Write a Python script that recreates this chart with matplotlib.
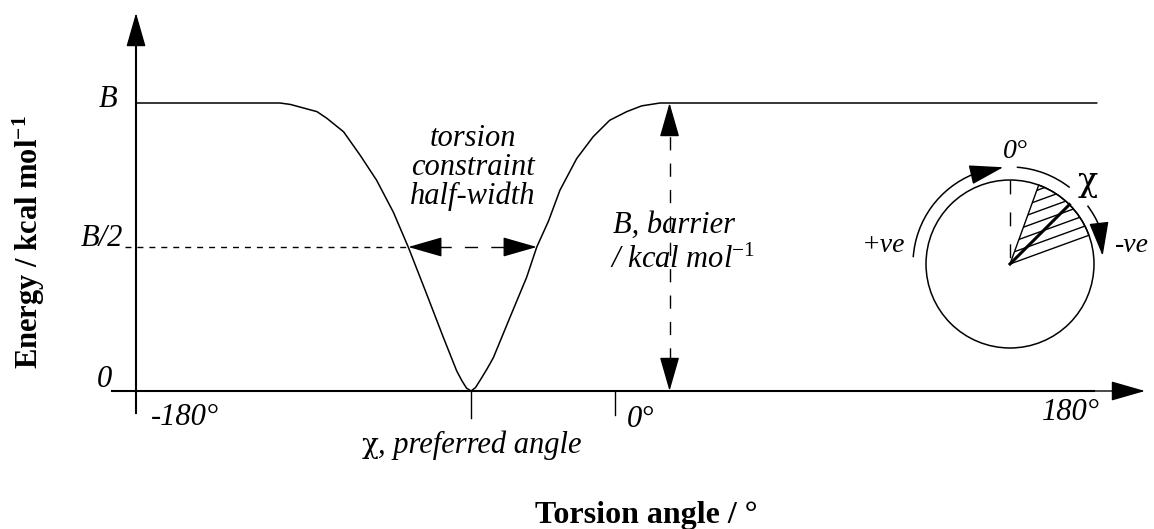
import numpy as np
import matplotlib
matplotlib.use('Agg')
import matplotlib.pyplot as plt
from matplotlib.patches import Circle, Wedge, Arc

plt.rcParams['font.family'] = ['Liberation Serif', 'DejaVu Serif']
plt.rcParams['mathtext.fontset'] = 'custom'
plt.rcParams['mathtext.rm'] = 'Liberation Serif'
plt.rcParams['mathtext.it'] = 'Liberation Serif:italic'
plt.rcParams['mathtext.bf'] = 'Liberation Serif:bold'

# Courbe d'énergie (angle en degrés, énergie en unités de B)
angle = [-180, -125.9, -122, -118, -112, -108.3, -102, -95.8, -89.6, -83.3,
         -77.7, -70.8, -64.5, -59.5, -57.5, -55.8, -54.1, -52.4, -50.5, -48,
         -45.7, -39.5, -33.2, -29.4, -25, -20.7, -14.4, -8.2, -2, 4.4, 10,
         16.9, 181]
energy = [1, 1, 0.995, 0.985, 0.97, 0.947, 0.90, 0.819, 0.732, 0.621,
          0.5, 0.337, 0.186, 0.07, 0.035, 0.01, 0, 0.012, 0.04, 0.078,
          0.116, 0.255, 0.395, 0.5, 0.59, 0.697, 0.807, 0.883, 0.94, 0.97,
          0.99, 1, 1]

chi_pref = -54.1          # angle préféré
half_left, half_right = -77.7, -29.4   # croisements à B/2
barrier_at = 20.5         # position de la flèche de barrière
y_labels = ['B', 'B/2', '0']

# échelle pixels : 0° -> 615 px, 2.661 px/deg ; E=0 -> 391 px, 288 px/unité
PXD, X0PX = 2.661, 615
PXE, Y0PX = 288, 391
W, H = 1154, 529

fig = plt.figure(figsize=(W / 100, H / 100), dpi=100)
ax = fig.add_axes([0, 0, 1, 1])
ax.set_xlim(-X0PX / PXD, (W - X0PX) / PXD)
ax.set_ylim((Y0PX - H) / PXE, Y0PX / PXE)
ax.axis('off')

ov = fig.add_axes([0, 0, 1, 1])
ov.set_xlim(0, W)
ov.set_ylim(H, 0)
ov.axis('off')
ov.patch.set_alpha(0)


def head(a, tip, tail, lw=1.0):
    a.annotate('', xy=tip, xytext=tail,
               arrowprops=dict(arrowstyle='-|>,head_length=21.6,head_width=6.2',
                               mutation_scale=1, lw=lw, color='black',
                               shrinkA=0, shrinkB=0))


# axes
ax.plot([-180, -180], [-22 / PXE, 1.2], color='black', lw=1.5)
head(ax, (-180, 378 / PXE), (-180, 1.0))
ax.plot([-503 / PXD, 180], [0, 0], color='black', lw=1.5)
head(ax, (530 / PXD, 0), (150, 0))

# courbe
ax.plot(angle, energy, color='black', lw=1.1)

# ticks
ax.plot([chi_pref, chi_pref], [0, -27 / PXE], color='black', lw=1.0)
ax.plot([0, 0], [0, -24 / PXE], color='black', lw=1.0)

# ligne B/2 pointillée
ax.plot([-490 / PXD, half_left], [0.5, 0.5], color='black', lw=1.0,
        dashes=(4.3, 4.3))
# flèche demi-largeur
ax.plot([half_left + 30 / PXD, half_right - 30 / PXD], [0.5, 0.5],
        color='black', lw=1.0, dashes=(9.5, 9.5))
head(ax, (half_left, 0.5), (half_left + 30 / PXD, 0.5))
head(ax, (half_right, 0.5), (half_right - 30 / PXD, 0.5))
# flèche barrière
ax.plot([barrier_at, barrier_at], [30 / PXE, 1 - 30 / PXE], color='black',
        lw=1.0, dashes=(9.5, 9.5))
head(ax, (barrier_at, 1), (barrier_at, 1 - 30 / PXE))
head(ax, (barrier_at, 0), (barrier_at, 30 / PXE))

# textes
it = dict(style='italic', fontsize=22, color='black')
ov.text(117, 107, y_labels[0], ha='right', va='baseline', **it)
ov.text(123, 246, y_labels[1], ha='right', va='baseline', **it)
ov.text(112, 387, y_labels[2], ha='right', va='baseline', **it)
ov.text(151, 425, '-180°', ha='left', va='baseline', **it)
ov.text(627, 427, '0°', ha='left', va='baseline', **it)
ov.text(1100, 420, '180°', ha='right', va='baseline', **it)
for s, yb in zip(['torsion', 'constraint', 'half-width'], [146, 175, 204]):
    ov.text(473, yb, s, ha='center', va='baseline', **it)
ov.text(613, 233, 'B, barrier', ha='left', va='baseline', **it)
ov.text(610, 268, r'/ kcal mol$^{\mathit{-1}}$', ha='left', va='baseline', **it)
ov.text(362, 453, 'χ', ha='left', va='baseline', fontsize=20,
        family='DejaVu Serif')
ov.text(378, 453, ', preferred angle', ha='left', va='baseline', **it)

ov.text(535, 523, 'Torsion angle / °', ha='left', va='baseline',
        fontsize=23, fontweight='bold')
ov.text(29, 242, r'Energy / kcal mol$^{\mathbf{-1}}$', rotation=90,
        ha='center', va='center', fontsize=22, fontweight='bold')

# schéma circulaire
cx, cy, r, ro = 1010, 264, 84, 97


def pt(a_deg, rad):
    a = np.radians(a_deg)
    return cx + rad * np.cos(a), cy - rad * np.sin(a)


ov.add_patch(Circle((cx, cy), r, fill=False, lw=1.1, color='black'))
ov.plot([cx, cx], [cy - r, cy], color='black', lw=1.0, dashes=(10, 13))
wedge = Wedge((cx, cy), r, 360 - 70, 360 - 20, fill=False, lw=1.0,
              edgecolor='black')
ov.add_patch(wedge)
t20 = np.tan(np.radians(20))
xs = np.array([cx - 20, cx + 120])
for k in range(1, 9):
    off = k * 10 / np.cos(np.radians(20))
    ln, = ov.plot(xs, cy - off - t20 * (xs - cx), color='black', lw=1.0)
    ln.set_clip_path(wedge)
x1, y1 = pt(45, r)
ov.plot([cx, x1], [cy, y1], color='black', lw=2.2)

# flèche +ve
ov.add_patch(Arc((cx, cy), 2 * ro, 2 * ro, theta1=360 - 176, theta2=360 - 112,
                 lw=1.1, color='black'))
head(ov, pt(94, ro), pt(112, ro))
# flèche -ve
ov.add_patch(Arc((cx, cy), 2 * ro, 2 * ro, theta1=360 - 86, theta2=360 - 52,
                 lw=1.1, color='black'))
ov.add_patch(Arc((cx, cy), 2 * ro, 2 * ro, theta1=360 - 37, theta2=360 - 22,
                 lw=1.1, color='black'))
head(ov, pt(5, ro - 4), pt(23, ro))

ov.text(1015, 158, '0°', ha='center', va='baseline', style='italic', fontsize=20)
ov.text(862, 252, '+ve', ha='left', va='baseline', style='italic', fontsize=20)
ov.text(1115, 252, '-ve', ha='left', va='baseline', style='italic', fontsize=20)
ov.text(1088, 182, 'χ', ha='center', va='center', fontsize=24,
        family='DejaVu Serif')

fig.savefig('out.png', dpi=100)
